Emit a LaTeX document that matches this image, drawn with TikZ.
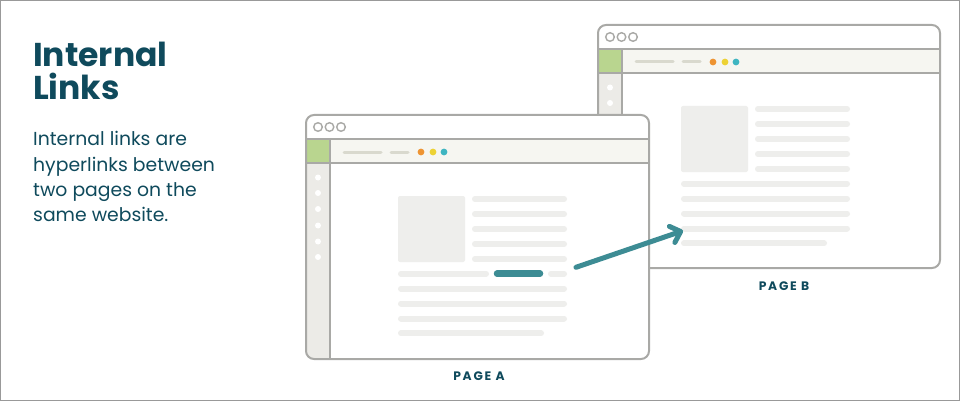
\documentclass[tikz,border=0pt]{standalone}
\usepackage{fontspec}
\setmainfont{Poppins}
\newfontfamily\labfont[LetterSpace=14]{Poppins}
\usetikzlibrary{arrows.meta}
\definecolor{ink}{HTML}{0F4A5C}
\definecolor{frame}{HTML}{A9A9A6}
\definecolor{toolbar}{HTML}{F6F6F1}
\definecolor{leaf}{HTML}{B9D58F}
\definecolor{side}{HTML}{ECEBE7}
\definecolor{bar}{HTML}{EEEEEC}
\definecolor{tline}{HTML}{D9D9CE}
\definecolor{dotor}{HTML}{EE9433}
\definecolor{dotye}{HTML}{EDD234}
\definecolor{dotbl}{HTML}{3EB5C1}
\definecolor{link}{HTML}{3D8C94}
\tikzset{
  winborder/.style={draw=frame, line width=2pt},
  sepline/.style={draw=frame, line width=1.6pt},
  textbar/.style={draw=bar, line width=6pt, line cap=round},
  linkbar/.style={draw=link, line width=6.5pt, line cap=round},
  tbar/.style={draw=tline, line width=3pt, line cap=round},
  titletext/.style={font=\fontsize{33}{33}\selectfont\bfseries, text=ink, inner sep=0pt, anchor=base west},
  bodytext/.style={font=\fontsize{18.8}{18.8}\selectfont, text=ink, inner sep=0pt, anchor=base west},
  pagelabel/.style={font=\labfont\fontsize{12.3}{12.3}\selectfont\bfseries, text=ink, inner sep=0pt},
}
% #1 x, #2 y, #3 width, #4 height, #5 content offset, #6 link row (1 = split)
\newcommand{\browserwin}[6]{%
  \begin{scope}[shift={(#1,#2)}]
    \fill[white, rounded corners=8pt] (0,0) rectangle (#3,#4);
    \begin{scope}
      \clip[rounded corners=8pt] (0,0) rectangle (#3,#4);
      \fill[toolbar] (0,24) rectangle (#3,48);
      \fill[leaf] (0,24) rectangle (24,48);
      \fill[side] (0,48) rectangle (24,#4);
    \end{scope}
    \draw[sepline] (0,24) -- (#3,24);
    \draw[sepline] (0,48) -- (#3,48);
    \draw[sepline] (24,24) -- (24,#4);
    \draw[winborder, rounded corners=8pt] (0,0) rectangle (#3,#4);
    \foreach \cx in {12,23.5,35} \draw[frame, line width=1.4pt] (\cx,12) circle (4.3pt);
    \draw[tbar] (38,37) -- (75,37);
    \draw[tbar] (85,37) -- (102,37);
    \fill[dotor] (115,37) circle (3.4pt);
    \fill[dotye] (127,37) circle (3.4pt);
    \fill[dotbl] (138,37) circle (3.4pt);
    \foreach \sy in {62.5,78,94,110.5,126.5,142} \fill[white] (12,\sy) circle (3pt);
    \begin{scope}[shift={(#5,0)}]
      \fill[bar, rounded corners=2pt] (0,81) rectangle (67,147);
      \foreach \ly in {84,99,114,129,144} \draw[textbar] (77,\ly) -- (166,\ly);
      \ifnum#6=1
        \draw[textbar] (3,158.7) -- (88,158.7);
        \draw[textbar] (153,158.7) -- (166,158.7);
      \else
        \draw[textbar] (3,158.7) -- (166,158.7);
      \fi
      \foreach \ly in {173.7,188.5,203.5} \draw[textbar] (3,\ly) -- (166,\ly);
      \draw[textbar] (3,218.3) -- (143,218.3);
    \end{scope}
  \end{scope}}
\begin{document}
\begin{tikzpicture}[x=1pt, y=-1pt]
  \useasboundingbox (0,0) rectangle (960,401);
  \draw[draw=gray!80, line width=1.2pt] (0.6,0.6) rectangle (959.4,400.4);
  % title and text
  \node[titletext] (title1) at (33,67) {Internal};
  \node[titletext] (title2) at (33,100) {Links};
  \node[bodytext] (body1) at (33,146) {Internal links are};
  \node[bodytext] (body2) at (33,171.5) {hyperlinks between};
  \node[bodytext] (body3) at (33,196.5) {two pages on the};
  \node[bodytext] (body4) at (33,221) {same website.};
  % page B
  \browserwin{598}{25}{342}{243}{83}{0}
  % page A
  \browserwin{306}{115}{343}{244}{92}{1}
  \draw[linkbar] (497,273.7) -- (540,273.7);
  % labels
  \node[pagelabel] (labelA) at (479,376) {PAGE A};
  \node[pagelabel] (labelB) at (784,286) {PAGE B};
  % arrow
  \coordinate (linkstart) at (576,267.3);
  \coordinate (linkend) at (683,230.7);
  \draw[draw=link, line width=5pt, line cap=round, -{Straight Barb[length=9pt, width=17pt, line cap=round, line join=round]}] (linkstart) -- (linkend);
\end{tikzpicture}
\end{document}
